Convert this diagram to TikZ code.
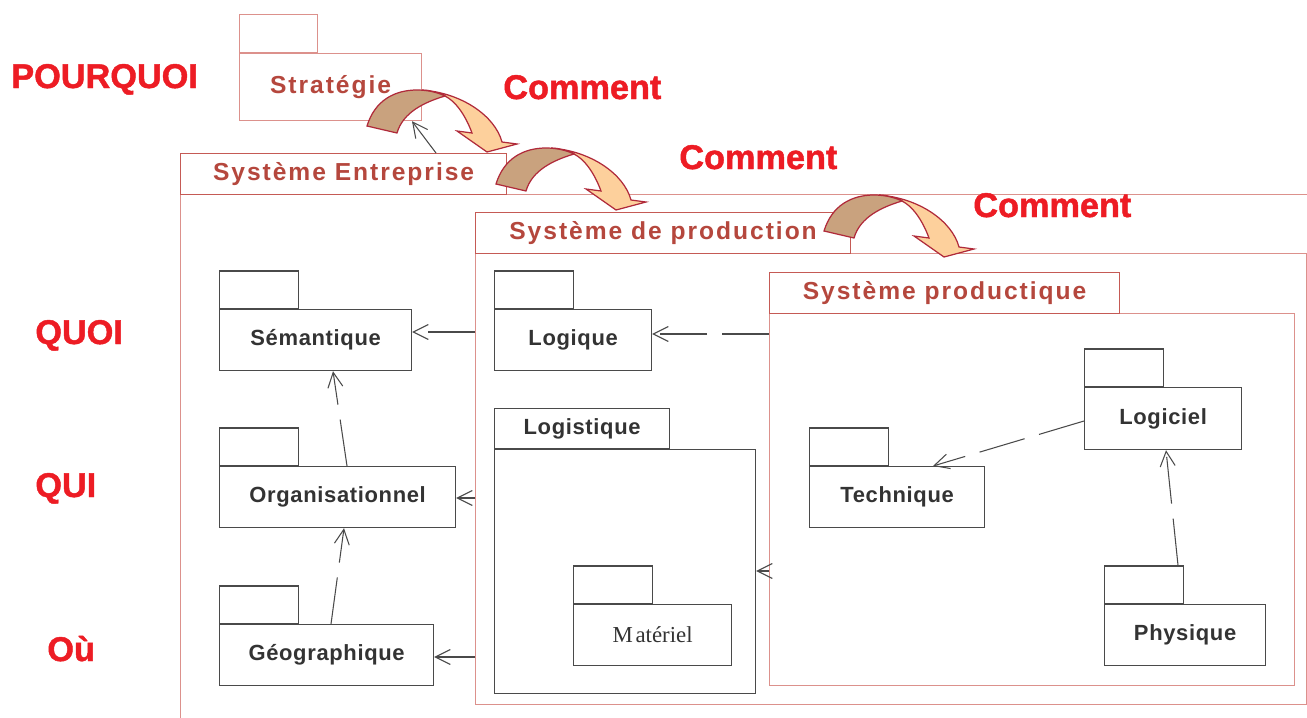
\documentclass[tikz,border=0pt]{standalone}
\usepackage{fontspec}
\setmainfont{Liberation Sans}
\newfontfamily\lsp[LetterSpace=8]{Liberation Sans}
\newfontfamily\lspb[LetterSpace=3]{Liberation Sans}
\newfontfamily\heavyfont[BoldFeatures={FakeBold=1.3}]{Liberation Sans}
\newfontfamily\tms{Liberation Serif}
\usetikzlibrary{arrows.meta,calc}
\definecolor{redtxt}{HTML}{ED1C24}
\definecolor{pkred}{HTML}{B5473D}
\definecolor{frmdark}{HTML}{C55A55}
\definecolor{frmlight}{HTML}{DC918C}
\definecolor{pkgline}{HTML}{4A4A4A}
\definecolor{pkgtxt}{HTML}{333333}
\definecolor{arrdark}{HTML}{C9A27E}
\definecolor{arrlight}{HTML}{FDD09C}
\definecolor{arredge}{HTML}{B02A3A}
\tikzset{
  pkgbody/.style={draw=pkgline, line width=0.7pt, anchor=north west, inner sep=0pt,
    text=pkgtxt, font=\lspb\bfseries\fontsize{12.5}{14}\selectfont},
  pkgtab/.style={draw=pkgline, line width=0.7pt, anchor=south west, inner sep=0pt,
    minimum width=1.58cm, minimum height=0.75cm},
  frmhead/.style={draw=frmdark, line width=0.7pt, anchor=north west, inner sep=0pt,
    text=pkred, font=\lsp\bfseries\fontsize{14}{16}\selectfont, minimum height=0.82cm},
  frmbody/.style={draw=frmlight, line width=0.7pt, anchor=north west, inner sep=0pt},
  redlbl/.style={text=redtxt, anchor=base west, inner sep=0pt,
    font=\heavyfont\bfseries\fontsize{19.5}{22}\selectfont},
  dep/.style={draw=pkgline, line width=0.6pt, dash pattern=on 0.94cm off 0.3cm,
    -{Straight Barb[length=8.5pt,width=8.5pt,line width=0.6pt]}},
  curvarrow/.pic={
    \filldraw[fill=arrlight, draw=arredge, line width=0.7pt]
      (55,-36) .. controls (95,-33) and (128,-10) .. (135,16)
      -- (150,18) -- (120,26) -- (90,5) -- (105,7)
      .. controls (98,-12) and (88,-25) .. (78,-30)
      .. controls (70,-34) and (62,-36) .. (55,-36) -- cycle;
    \filldraw[fill=arrdark, draw=arredge, line width=0.7pt]
      (0,0) .. controls (8,-26) and (28,-36) .. (50,-36)
      .. controls (62,-36) and (72,-33) .. (78,-30)
      .. controls (58,-24) and (36,-14) .. (30,7) -- cycle;
  }
}
\begin{document}
\begin{tikzpicture}[x=0.02cm, y=-0.02cm]
\clip (0,0) rectangle (1307,717);
\fill[white] (0,0) rectangle (1307,717);

% frames
\node[frmbody, minimum width=22.8cm, minimum height=10.8cm] (entbody) at (180,194) {};
\node[frmhead, minimum width=6.52cm] (enthead) at (180,153) {Système Entreprise};
\node[frmbody, minimum width=16.62cm, minimum height=9.02cm] (prodbody) at (475,253) {};
\node[frmhead, minimum width=7.5cm] (prodhead) at (475,212) {Système de production};
\node[frmbody, minimum width=10.5cm, minimum height=7.44cm] (ptqbody) at (769,313) {};
\node[frmhead, minimum width=7.0cm] (ptqhead) at (769,272) {Système productique};

% Strategie
\node[frmbody, draw=frmlight, text=pkred, font=\lsp\bfseries\fontsize{14}{16}\selectfont,
  minimum width=3.64cm, minimum height=1.34cm] (strat) at (239,53) {Stratégie};
\node[pkgtab, draw=frmlight, minimum width=1.56cm, minimum height=0.76cm] (strattab) at (strat.north west) {};

% packages
\node[pkgbody, minimum width=3.84cm, minimum height=1.22cm] (sem) at (219,309) {Sémantique};
\node[pkgtab] (semtab) at (sem.north west) {};
\node[pkgbody, minimum width=4.72cm, minimum height=1.22cm] (org) at (219,466) {Organisationnel};
\node[pkgtab] (orgtab) at (org.north west) {};
\node[pkgbody, minimum width=4.28cm, minimum height=1.22cm] (geo) at (219,624) {Géographique};
\node[pkgtab] (geotab) at (geo.north west) {};
\node[pkgbody, minimum width=3.14cm, minimum height=1.22cm] (logique) at (494,309) {Logique};
\node[pkgtab] (logiquetab) at (logique.north west) {};
\node[pkgbody, minimum width=5.22cm, minimum height=4.88cm] (logist) at (494,449) {};
\node[pkgtab, minimum width=3.5cm, minimum height=0.8cm, text=pkgtxt,
  font=\lspb\bfseries\fontsize{12.5}{14}\selectfont] (logisttab) at (logist.north west) {Logistique};
\node[pkgbody, minimum width=3.16cm, minimum height=1.22cm,
  font=\tms\fontsize{13}{15}\selectfont] (mat) at (573,604) {M\kern1.5pt atériel};
\node[pkgtab] (mattab) at (mat.north west) {};
\node[pkgbody, minimum width=3.5cm, minimum height=1.22cm] (tech) at (809,466) {Technique};
\node[pkgtab] (techtab) at (tech.north west) {};
\node[pkgbody, minimum width=3.14cm, minimum height=1.24cm] (logiciel) at (1084,387) {Logiciel};
\node[pkgtab] (logicieltab) at (logiciel.north west) {};
\node[pkgbody, minimum width=3.22cm, minimum height=1.22cm] (phys) at (1104,604) {Physique};
\node[pkgtab] (phystab) at (phys.north west) {};

% dependencies
\draw[dep] ($(prodbody.north west)+(0,79)$) -- ($(sem.north east)+(0,23)$);
\draw[dep] ($(prodbody.north west)+(0,245)$) -- ($(org.north east)+(0,32)$);
\draw[dep] ($(prodbody.north west)+(0,404)$) -- ($(geo.north east)+(0,33)$);
\draw[dep] ($(ptqbody.north west)+(0,21)$) -- ($(logique.north east)+(0,25)$);
\draw[dep] ($(ptqbody.north west)+(0,258)$) -- ($(logist.north east)+(0,122)$);
\draw[dep] ($(org.north west)+(128,0)$) -- ($(sem.south west)+(114,0)$);
\draw[dep] ($(geo.north west)+(112,0)$) -- ($(org.south west)+(125,0)$);
\draw[dep] ($(logiciel.north west)+(0,34)$) -- ($(tech.north west)+(124,0)$);
\draw[dep] ($(phystab.north west)+(74,0)$) -- ($(logiciel.south west)+(82,0)$);
\draw[dep] ($(enthead.north west)+(256,0)$) -- ($(strat.south west)+(173,0)$);

% curved arrows
\pic at (367,126) {curvarrow};
\pic at (496,184) {curvarrow};
\pic at (824,231) {curvarrow};

% red labels
\node[redlbl] (pourquoi) at (11,88) {POURQUOI};
\node[redlbl] (quoi) at (35,344) {QUOI};
\node[redlbl] (qui) at (35,497) {QUI};
\node[redlbl] (ou) at (47,661) {Où};
\node[redlbl] (c1) at (503,99) {Comment};
\node[redlbl] (c2) at (679,169) {Comment};
\node[redlbl] (c3) at (973,217) {Comment};
\end{tikzpicture}
\end{document}
